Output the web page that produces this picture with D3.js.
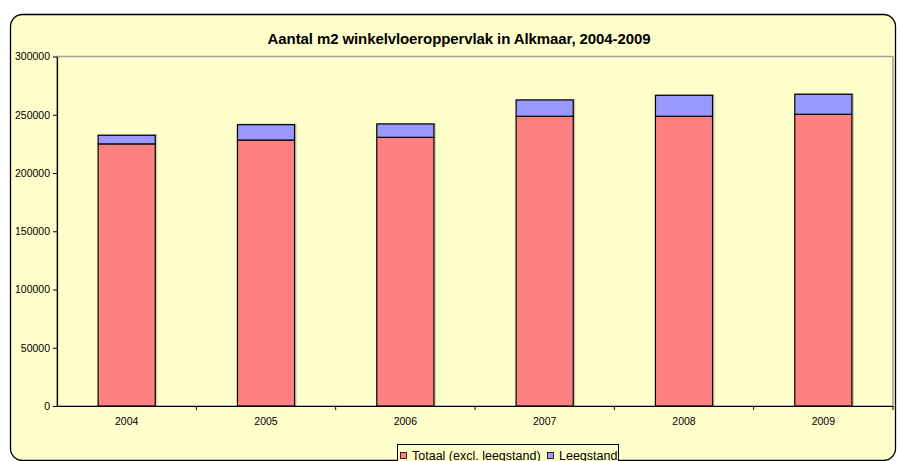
<!DOCTYPE html>
<meta charset="utf-8">
<head>
<script src="https://cdn.jsdelivr.net/npm/d3@7"></script>
<style>
body { margin: 0; background: #fff; }
text { font-family: "Liberation Sans", Arial, sans-serif; fill: #000; }
</style>
</head>
<body>
<script>
// data
var years = ["2004", "2005", "2006", "2007", "2008", "2009"];
var totaal = [225000, 228300, 230600, 248700, 248700, 250400];
var leegstand = [7400, 13200, 11500, 14000, 18000, 17200];
var yTicks = [0, 50000, 100000, 150000, 200000, 250000, 300000];
var seriesNames = ["Totaal (excl. leegstand)", "Leegstand"];
var seriesColors = ["#ff8080", "#9999ff"];

var W = 897, H = 461;
var plot = {left: 57, top: 56.5, right: 893, bottom: 406};

var svg = d3.select("body").append("svg")
    .attr("width", W)
    .attr("height", H);

// chart area with rounded border
svg.append("rect")
    .attr("x", 10.5).attr("y", 14.5)
    .attr("width", 885).attr("height", 446)
    .attr("rx", 12).attr("ry", 12)
    .attr("fill", "#ffffcc")
    .attr("stroke", "#000")
    .attr("stroke-width", 1.3);

svg.append("text")
    .attr("x", 459).attr("y", 43.5)
    .attr("text-anchor", "middle")
    .style("font-size", "15px")
    .style("font-weight", "bold")
    .style("letter-spacing", "-0.1px")
    .text("Aantal m2 winkelvloeroppervlak in Alkmaar, 2004-2009");

// plot area border
svg.append("rect")
    .attr("x", plot.left).attr("y", plot.top)
    .attr("width", plot.right - plot.left)
    .attr("height", plot.bottom - plot.top)
    .attr("fill", "#ffffcc")
    .attr("stroke", "#a0a0a0")
    .attr("stroke-width", 1.5);

var x = d3.scaleBand()
    .domain(years)
    .range([plot.left, plot.right]);

var y = d3.scaleLinear()
    .domain([0, 300000])
    .range([plot.bottom, plot.top]);

var barW = x.bandwidth() * 0.41;

var rows = years.map(function(yr, i) {
  return {year: yr, totaal: totaal[i], leegstand: leegstand[i]};
});
var stacked = d3.stack().keys(["totaal", "leegstand"])(rows);

// faint bar shadow
svg.append("g").selectAll("rect")
    .data(rows)
  .enter().append("rect")
    .attr("x", function(d) { return x(d.year) + (x.bandwidth() - barW) / 2 + 2; })
    .attr("y", function(d) { return y(d.totaal + d.leegstand) - 1; })
    .attr("width", barW)
    .attr("height", function(d) { return plot.bottom - y(d.totaal + d.leegstand) + 1; })
    .attr("fill", "#808060")
    .attr("opacity", 0.4);

svg.append("g").selectAll("g")
    .data(stacked)
  .enter().append("g")
    .attr("fill", function(d, i) { return seriesColors[i]; })
  .selectAll("rect")
    .data(function(d) { return d; })
  .enter().append("rect")
    .attr("x", function(d) { return x(d.data.year) + (x.bandwidth() - barW) / 2; })
    .attr("y", function(d) { return y(d[1]); })
    .attr("width", barW)
    .attr("height", function(d) { return y(d[0]) - y(d[1]); })
    .attr("stroke", "#000")
    .attr("stroke-width", 1.2);

// y axis
var yAxis = svg.append("g")
    .attr("transform", "translate(" + plot.left + ",0)")
    .call(d3.axisLeft(y).tickValues(yTicks).tickSize(4).tickSizeOuter(0).tickPadding(3)
      .tickFormat(d3.format("d")));
yAxis.selectAll("text").style("font-size", "10.5px");

// x axis: labels at centres, ticks on band edges
var xAxis = svg.append("g")
    .attr("transform", "translate(0," + plot.bottom + ")")
    .call(d3.axisBottom(x).tickSize(0).tickSizeOuter(0).tickPadding(12));
xAxis.selectAll("text").style("font-size", "10.5px");
xAxis.selectAll(".tick").append("line")
    .attr("x1", x.bandwidth() / 2).attr("x2", x.bandwidth() / 2)
    .attr("y2", 4)
    .attr("stroke", "#000");
svg.selectAll(".domain").attr("stroke", "#000").attr("stroke-width", 1.2);

// legend
var lg = svg.append("g");
lg.append("rect")
    .attr("x", 397.5).attr("y", 444.5)
    .attr("width", 221).attr("height", 22)
    .attr("fill", "#ffffcc")
    .attr("stroke", "#000");
var legX = [400, 547];
seriesNames.forEach(function(name, i) {
  lg.append("rect")
      .attr("x", legX[i] + 0.5).attr("y", 452.5)
      .attr("width", 6).attr("height", 6)
      .attr("fill", seriesColors[i])
      .attr("stroke", "#000")
      .attr("stroke-width", 0.8);
  lg.append("text")
      .attr("x", legX[i] + 12).attr("y", 459.5)
      .style("font-size", "12.5px")
      .text(name);
});
</script>
</body>
